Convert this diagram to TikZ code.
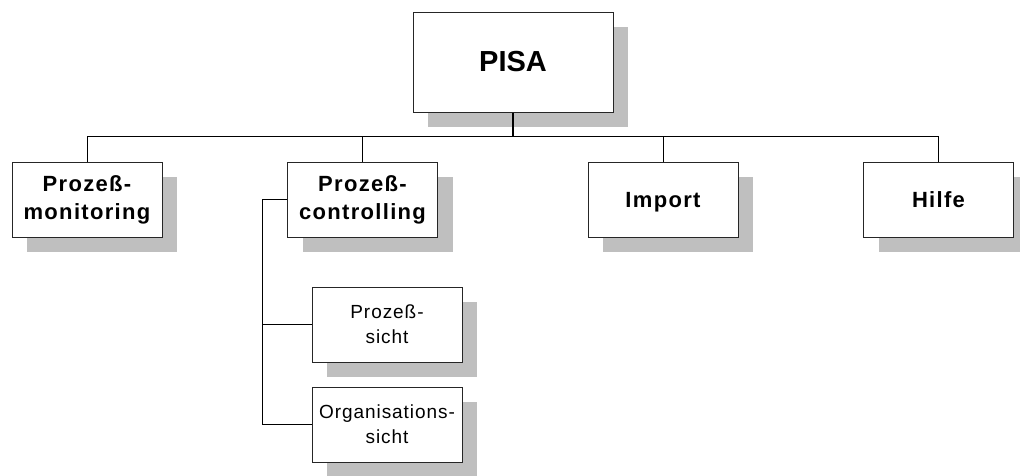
\documentclass[tikz,border=0pt]{standalone}
\usepackage{fontspec}
\setmainfont{Liberation Sans}
\usepackage{tikz}
\usetikzlibrary{calc,positioning,shadows}
\tikzset{
    box/.style={draw=black!85, fill=white, line width=0.75pt, inner sep=0pt, align=center,
        drop shadow={shadow xshift=11.25pt, shadow yshift=-11.25pt, fill=black!25, opacity=1}},
    topbox/.style={box, minimum width=150pt, minimum height=75pt,
        font=\bfseries\fontsize{21.75}{26}\selectfont},
    mainbox/.style={box, minimum width=112.5pt, minimum height=56.25pt,
        font=\bfseries\addfontfeatures{LetterSpace=6}\fontsize{16.5}{21}\selectfont},
    subbox/.style={box, minimum width=112.5pt, minimum height=56.25pt,
        font=\addfontfeatures{LetterSpace=5}\fontsize{14.25}{19}\selectfont},
    link/.style={draw=black, line width=0.75pt},
}

\begin{document}
\begin{tikzpicture}[x=0.75pt,y=0.75pt,yscale=-1,xscale=1]
\useasboundingbox (0,0) rectangle (1020,475);
%Boxes
\node [topbox] (pisa) at (513,62) {PISA};
\node [mainbox] (monitoring) at (87,199.5) {Proze\ss-\\monitoring};
\node [mainbox] (controlling) at (362.5,199.5) {Proze\ss-\\controlling};
\node [mainbox, text depth=0pt] (import) at (663,199.5) {Import};
\node [mainbox] (hilfe) at (938.5,199.5) {Hilfe};
\node [subbox] (prozesssicht) at (387,324.5) {Proze\ss-\\sicht};
\node [subbox] (orgsicht) at (387,424.5) {Organisations-\\sicht};
%Lines
\coordinate (bus) at ($(pisa.south)+(0,24)$);
\draw [link, line width=1.5pt] (pisa.south) -- (bus);
\draw [link] (monitoring.north) |- (bus) -| (hilfe.north);
\draw [link] (controlling.north) -- (controlling.north |- bus);
\draw [link] (import.north) -- (import.north |- bus);
\coordinate (branch) at ($(controlling.west)+(-25,0)$);
\draw [link] (controlling.west) -- (branch) |- (orgsicht.west);
\draw [link] (prozesssicht.west) -- (prozesssicht.west -| branch);
\end{tikzpicture}
\end{document}
